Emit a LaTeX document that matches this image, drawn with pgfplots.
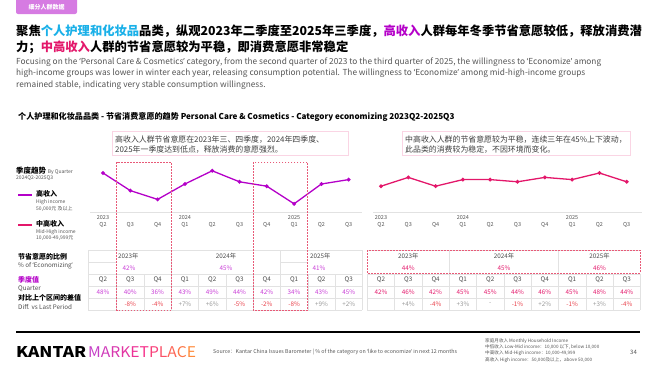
\documentclass[border=0pt]{standalone}
\usepackage{pgfplots}
\pgfplotsset{compat=1.18}
\usepackage{graphicx}
\usepackage{fontspec}
\setmainfont{Noto Sans CJK SC}[AutoFakeSlant=0.2]
\newfontfamily\qf{Noto Sans}
\newcommand\oq{{\qf ‘}}
\newcommand\cq{{\qf ’}}
\definecolor{hi}{HTML}{B400C8}
\definecolor{hiT}{HTML}{C83CD6}
\definecolor{mh}{HTML}{E3176A}
\definecolor{cy}{HTML}{1AB0E8}
\definecolor{dsh}{HTML}{E85A78}
\definecolor{txtg}{HTML}{555555}
\definecolor{gridc}{HTML}{E2E2E2}
\definecolor{tagc}{HTML}{D67BE2}
\definecolor{neg}{HTML}{E8404A}
\definecolor{pos}{HTML}{9A9A9A}
\newcommand\fs[1]{\fontsize{#1}{#1}\selectfont}
\begin{document}
\begin{tikzpicture}
% ---------------- charts ----------------
\pgfplotsset{qaxis/.style={
  anchor=south west,
  x=27.3pt, y=2.2pt, ymin=30.27, ymax=53.9,
  axis x line*=bottom, axis y line=none,
  x axis line style={gridc, line width=0.6pt, -},
  xtick=data, major tick length=0pt,
  xticklabels={{2023\\Q2},{\phantom{2023}\\Q3},{\phantom{2023}\\Q4},{2024\\Q1},{\phantom{2023}\\Q2},{\phantom{2023}\\Q3},{\phantom{2023}\\Q4},{2025\\Q1},{\phantom{2023}\\Q2},{\phantom{2023}\\Q3}},
  xticklabel style={font=\fontsize{5.5}{7.2}\selectfont, text=txtg, align=center, inner sep=1.5pt, yshift=-1.5pt},
  clip=false}}
\begin{axis}[qaxis, at={(90pt,-212pt)}, xmin=-0.476, xmax=9.49]
\addplot[hi, line width=1.3pt, mark=*, mark size=1.2pt] coordinates {
 (0,48) (1,40) (2,36) (3,43) (4,49) (5,44) (6,42) (7,34) (8,43) (9,45)};
\end{axis}
\begin{axis}[qaxis, at={(372.8pt,-212pt)}, xmin=-0.3, xmax=9.55]
\addplot[mh, line width=1.3pt, mark=*, mark size=1.2pt] coordinates {
 (0,42) (1,46) (2,42) (3,45) (4,45) (5,44) (6,46) (7,45) (8,48) (9,44)};
\end{axis}
% ---------------- slide decoration ----------------
\begin{scope}[x=1pt,y=-1pt]
\path[use as bounding box] (0,0) rectangle (660,372);
% tag
\fill[tagc, rounded corners=2pt] (16,-3) rectangle (77,14);
\node[text=white, font=\bfseries\fs{6}] at (46.5,7) {细分人群数据};
% headline
\node[anchor=west, inner sep=0, font=\bfseries\fs{12.3}] at (16,31) {聚焦\textcolor{cy}{个人护理和化妆品}品类，纵观2023年二季度至2025年三季度，\textcolor{hi}{高收入}人群每年冬季节省意愿较低，释放消费潜};
\node[anchor=west, inner sep=0, font=\bfseries\fs{12.3}] at (16,47) {力；\textcolor{mh}{中高收入}人群的节省意愿较为平稳，即消费意愿非常稳定};
% english
\begin{scope}[every node/.style={anchor=west, inner sep=0, font=\fs{8.3}, text=txtg}]
\node at (16,62) {Focusing on the \oq Personal Care \& Cosmetics\cq{} category, from the second quarter of 2023 to the third quarter of 2025, the willingness to \oq Economize\cq{} among};
\node at (16,73.5) {high-income groups was lower in winter each year, releasing consumption potential. The willingness to \oq Economize\cq{} among mid-high-income groups};
\node at (16,85) {remained stable, indicating very stable consumption willingness.};
\end{scope}
% section title
\node[anchor=west, inner sep=0, font=\bfseries\itshape\fs{8.1}] at (18,117) {个人护理和化妆品品类 - 节省消费意愿的趋势 Personal Care \& Cosmetics - Category economizing 2023Q2-2025Q3};
% callouts
\draw[mh!18, fill=white, line width=0.6pt] (112,131) rectangle (348,155);
\node[anchor=west, inner sep=0, font=\fs{7.9}, text=black!75] at (115,140) {高收入人群节省意愿在2023年三、四季度，2024年四季度、};
\node[anchor=west, inner sep=0, font=\fs{7.9}, text=black!75] at (115,150) {2025年一季度达到低点，释放消费的意愿强烈。};
\draw[mh!18, fill=white, line width=0.6pt] (402,131) rectangle (630,155);
\node[anchor=west, inner sep=0, font=\fs{7.9}, text=black!75] at (405,140) {中高收入人群的节省意愿较为平稳，连续三年在45\%上下波动，};
\node[anchor=west, inner sep=0, font=\fs{7.9}, text=black!75] at (405,150) {此品类的消费较为稳定，不因环境而变化。};
% legend
\node[anchor=west, inner sep=0, font=\fs{5}, text=txtg] at (16,171) {\fs{7.5}\bfseries\color{black}季度趋势\ \mdseries\fs{5}\color{txtg}By Quarter};
\node[anchor=west, inner sep=0, font=\fs{5}, text=txtg] at (16,178) {2024Q2-2025Q3};
\draw[hi, line width=2pt] (18,195) -- (32,195);
\node[anchor=west, inner sep=0, font=\bfseries\fs{7}] at (36,194) {高收入};
\node[anchor=west, inner sep=0, font=\fs{5}, text=txtg] at (36,202) {High income};
\node[anchor=west, inner sep=0, font=\fs{5}, text=txtg] at (36,208.5) {50,000元 及以上};
\draw[mh, line width=2pt] (18,225) -- (32,225);
\node[anchor=west, inner sep=0, font=\bfseries\fs{7}] at (36,224) {中高收入};
\node[anchor=west, inner sep=0, font=\fs{5}, text=txtg] at (36,232) {Mid-High income};
\node[anchor=west, inner sep=0, font=\fs{5}, text=txtg] at (36,238.5) {10,000-49,999元};
% row labels
\node[anchor=west, inner sep=0, font=\bfseries\fs{7}] at (18,257) {节省意愿的比例};
\node[anchor=west, inner sep=0, font=\fs{6.3}, text=black!70] at (18,266) {\% of \oq Economizing\cq};
\node[anchor=west, inner sep=0, font=\bfseries\fs{7}, text=hi] at (18,280) {季度值};
\node[anchor=west, inner sep=0, font=\fs{6.3}, text=black!70] at (18,288.5) {Quarter};
\node[anchor=west, inner sep=0, font=\bfseries\fs{7}] at (18,298) {对比上个区间的差值};
\node[anchor=west, inner sep=0, font=\fs{6.3}, text=black!70] at (18,306.5) {Diff. vs Last Period};
% ---- table grids
\begin{scope}[gridc, line width=0.5pt]
\foreach \yy in {250,274,286,298,310} \draw (88,\yy) -- (362.4,\yy);
\draw (88,262) -- (116.7,262);
\draw (280.5,262) -- (307.8,262);
\foreach \xx in {88,116.7,144,171.3,198.6,225.9,253.2,280.5,307.8,335.1,362.4} \draw (\xx,274) -- (\xx,310);
\foreach \xx in {88,171.3,280.5,362.4} \draw (\xx,250) -- (\xx,274);
\foreach \yy in {250,274,286,298,310} \draw (367.4,\yy) -- (640.4,\yy);
\foreach \xx in {367.4,394.7,422,449.3,476.6,503.9,531.2,558.5,585.8,613.1,640.4} \draw (\xx,274) -- (\xx,310);
\foreach \xx in {449.3,558.5} \draw (\xx,250) -- (\xx,274);
\end{scope}
% ---- table text
\begin{scope}[every node/.style={inner sep=0, font=\fs{6.3}}]
\node[anchor=west, text=black!70] at (118,256) {2023年};
\node[text=hiT] at (129,268) {42\%};
\node[text=black!70] at (226,256) {2024年};
\node[text=hiT] at (226,268) {45\%};
\node[anchor=west, text=black!70] at (310,256) {2025年};
\node[text=hiT] at (319,268) {41\%};
\node[text=black!70] at (408.3,256) {2023年};
\node[text=mh] at (408.3,268) {44\%};
\node[text=black!70] at (503.9,256) {2024年};
\node[text=mh] at (503.9,268) {45\%};
\node[text=black!70] at (599.4,256) {2025年};
\node[text=mh] at (599.4,268) {46\%};
\foreach \xx/\q/\v/\d/\c in {103/Q2/48/{}/pos, 130.3/Q3/40/-8\%/neg, 157.6/Q4/36/-4\%/neg, 184.9/Q1/43/+7\%/pos, 212.2/Q2/49/+6\%/pos, 239.5/Q3/44/-5\%/neg, 266.8/Q4/42/-2\%/neg, 294.1/Q1/34/-8\%/neg, 321.4/Q2/43/+9\%/pos, 348.7/Q3/45/+2\%/pos}{
  \node[text=black!70] at (\xx,280) {\q};
  \node[text=hiT] at (\xx,292) {\v\%};
  \node[text=\c] at (\xx,304) {\d};
}
\foreach \xx/\q/\v/\d/\c in {381/Q2/42/{}/pos, 408.3/Q3/46/+4\%/pos, 435.6/Q4/42/-4\%/neg, 462.9/Q1/45/+3\%/pos, 490.2/Q2/45/-/pos, 517.5/Q3/44/-1\%/neg, 544.8/Q4/46/+2\%/pos, 572.1/Q1/45/-1\%/neg, 599.4/Q2/48/+3\%/pos, 626.7/Q3/44/-4\%/neg}{
  \node[text=black!70] at (\xx,280) {\q};
  \node[text=mh] at (\xx,292) {\v\%};
  \node[text=\c] at (\xx,304) {\d};
}
\end{scope}
% dashed boxes
\begin{scope}[dsh, line width=0.7pt, dash pattern=on 1.6pt off 1.4pt]
\draw (116.7,162) rectangle (171.3,310);
\draw (253.2,162) rectangle (307.8,310);
\draw (367.4,250) rectangle (640,273);
\end{scope}
% footer
\draw[black, line width=2pt] (16,332) -- (640,332);
\node[anchor=south west, inner sep=0] at (16,357.5) {\resizebox{70pt}{11pt}{\bfseries KANTAR}};
\node[anchor=south west, inner sep=0] at (88,357.5) {\resizebox{108pt}{11pt}{\textcolor[HTML]{C53FC6}{M}\textcolor[HTML]{CF3CBA}{A}\textcolor[HTML]{D838AE}{R}\textcolor[HTML]{E235A2}{K}\textcolor[HTML]{EC3296}{E}\textcolor[HTML]{F52F8A}{T}\textcolor[HTML]{F8407A}{P}\textcolor[HTML]{FA5268}{L}\textcolor[HTML]{FC6556}{A}\textcolor[HTML]{FD7747}{C}\textcolor[HTML]{FF8A3A}{E}}};
\node[anchor=west, inner sep=0, font=\fs{5.3}, text=txtg] at (213,352) {Source：Kantar China Issues Barometer | \% of the category on \oq like to economize\cq{} in next 12 months};
\begin{scope}[every node/.style={anchor=west, inner sep=0, font=\fs{4.6}, text=txtg}]
\node at (485,341) {家庭月收入 Monthly Household Income};
\node at (485,347.3) {中低收入 Low-Mid income：10,000 以下, below 10,000};
\node at (485,353.6) {中高收入 Mid-High income：10,000-49,999};
\node at (485,359.9) {高收入 High income：50,000及以上，above 50,000};
\end{scope}
\node[anchor=west, inner sep=0, font=\fs{6}, text=txtg] at (630,352) {34};
\end{scope}
\end{tikzpicture}
\end{document}
